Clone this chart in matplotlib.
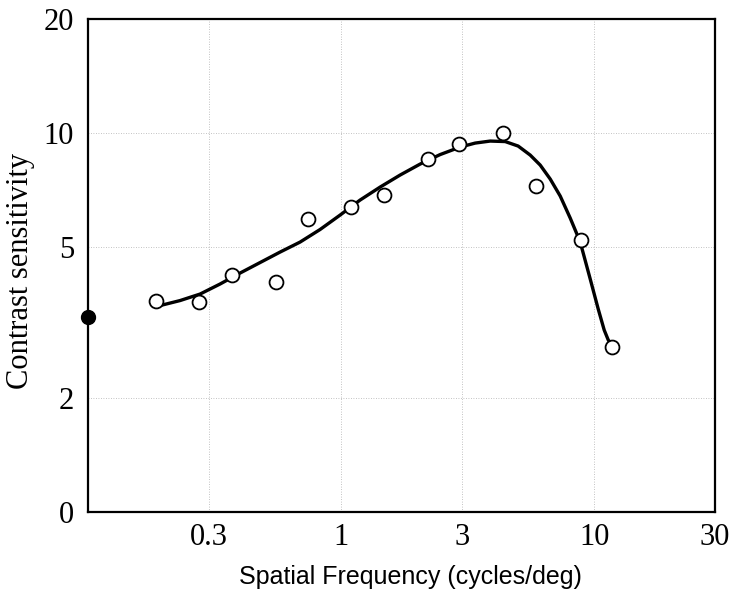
import numpy as np
import matplotlib
matplotlib.use('Agg')
import matplotlib.pyplot as plt
from matplotlib.ticker import NullLocator

# measured points (open circles)
freq = [0.186, 0.275, 0.370, 0.552, 0.739, 1.095, 1.479, 2.207, 2.935, 4.38, 5.91, 8.86, 11.75]
sens = [3.61, 3.58, 4.22, 4.04, 5.93, 6.39, 6.86, 8.52, 9.34, 10.02, 7.24, 5.23, 2.73]

# filled point on the y axis
dc_freq = [0.1]
dc_sens = [3.28]

# smooth fitted curve
curve_freq = [0.1891, 0.2310, 0.2772, 0.3324, 0.3989, 0.4784, 0.5741, 0.6886, 0.8260, 0.9909,
              1.1886, 1.426, 1.711, 2.052, 2.462, 2.953, 3.385, 3.881, 4.449, 5.006,
              5.585, 6.117, 6.700, 7.338, 8.037, 8.411, 8.803, 9.642, 10.37, 10.95,
              11.36, 11.67]
curve_sens = [3.495, 3.614, 3.760, 3.996, 4.272, 4.553, 4.853, 5.157, 5.566, 6.076,
              6.657, 7.203, 7.750, 8.283, 8.776, 9.185, 9.410, 9.526, 9.497, 9.241,
              8.749, 8.233, 7.564, 6.821, 5.967, 5.549, 5.157, 4.119, 3.432, 3.021,
              2.844, 2.775]

xticks = [0.3, 1, 3, 10, 30]
xticklabels = ['0.3', '1', '3', '10', '30']
yticks = [1, 2, 5, 10, 20]
yticklabels = ['0', '2', '5', '10', '20']

fig = plt.figure(figsize=(7.35, 5.92), dpi=100)
ax = fig.add_axes([0.1197, 0.1351, 0.8531, 0.8328])

ax.set_xscale('log')
ax.set_yscale('log')
ax.set_xlim(0.1, 30)
ax.set_ylim(1, 20)

ax.plot(curve_freq, curve_sens, color='black', lw=2.4, solid_capstyle='round',
        solid_joinstyle='round', zorder=3)
ax.plot(freq, sens, 'o', ms=10, mfc='white', mec='black', mew=1.3, zorder=4)
ax.plot(dc_freq, dc_sens, 'o', ms=10, color='black', clip_on=False, zorder=5)

ax.set_xticks(xticks)
ax.set_xticklabels(xticklabels)
ax.set_yticks(yticks)
ax.set_yticklabels(yticklabels)
ax.xaxis.set_minor_locator(NullLocator())
ax.yaxis.set_minor_locator(NullLocator())

for lab in ax.get_xticklabels() + ax.get_yticklabels():
    lab.set_family('Liberation Serif')
    lab.set_fontsize(22)
ax.tick_params(axis='x', length=0, pad=8)
ax.tick_params(axis='y', length=0, pad=10)

# dotted grid
ax.grid(True, which='major', color='#b0b0b0', lw=0.6, linestyle=(0, (1, 2)))

for s in ax.spines.values():
    s.set_linewidth(1.6)

ax.set_xlabel('Spatial Frequency (cycles/deg)', family='Liberation Sans', fontsize=18)
ax.xaxis.set_label_coords(0.515, -0.108)
ax.set_ylabel('Contrast sensitivity', family='Liberation Serif', fontsize=22)
ax.yaxis.set_label_coords(-0.085, 0.49)

fig.savefig('out.png', dpi=100)
